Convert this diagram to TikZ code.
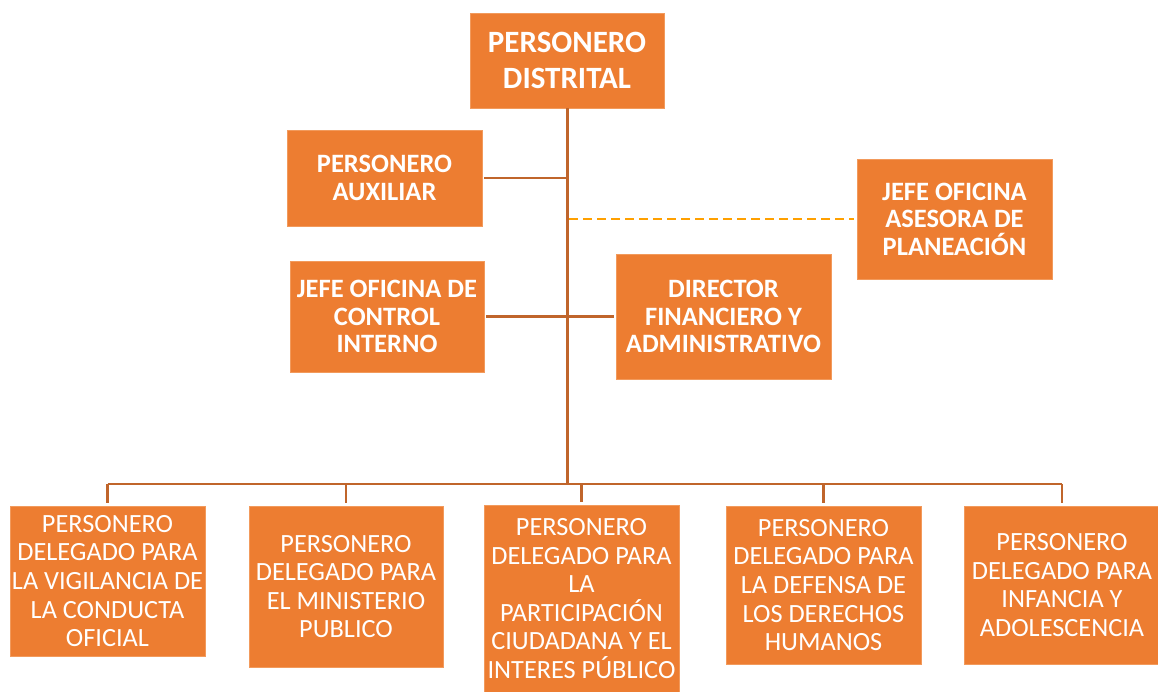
\documentclass[tikz,border=0pt]{standalone}
\usepackage{fontspec}
\setmainfont{Carlito}
\definecolor{boxfill}{HTML}{ED7D31}
\definecolor{boxedge}{HTML}{F29A5C}
\definecolor{linec}{HTML}{C0652B}
\definecolor{dashc}{HTML}{FFA000}
\begin{document}
\begin{tikzpicture}[x=1pt,y=-1pt,
  orgbox/.style={fill=boxfill,draw=boxedge,line width=0.6pt,text=white,align=center,inner sep=0pt},
  boldbox/.style={orgbox,font=\fontsize{26.5}{27.5}\selectfont\bfseries},
  topbox/.style={orgbox,font=\fontsize{31}{36}\selectfont\bfseries},
  regbox/.style={orgbox,font=\fontsize{26.3}{28.6}\selectfont},
  trunkline/.style={draw=linec,line width=3pt},
  conn/.style={draw=linec,line width=2.3pt},
  dashconn/.style={draw=dashc,line width=2.5pt,dash pattern=on 9pt off 5pt}]
\useasboundingbox (0,0) rectangle (1158,692);

\node[topbox,minimum width=194pt,minimum height=95pt] (pd) at (567,60.5) {PERSONERO\\DISTRITAL};
\node[boldbox,minimum width=195pt,minimum height=96pt] (aux) at (384.5,178) {PERSONERO\\AUXILIAR};
\node[boldbox,minimum width=195pt,minimum height=120pt] (ase) at (954.5,219) {JEFE OFICINA\\ASESORA DE\\PLANEACIÓN};
\node[boldbox,minimum width=194pt,minimum height=111pt] (ci) at (387,316.5) {JEFE OFICINA DE\\CONTROL\\INTERNO};
\node[boldbox,minimum width=215pt,minimum height=125pt] (dir) at (723.5,316.5) {DIRECTOR\\FINANCIERO Y\\ADMINISTRATIVO};

\node[regbox,minimum width=195pt,minimum height=150pt] (b1) at (107.5,581) {PERSONERO\\DELEGADO PARA\\LA VIGILANCIA DE\\LA CONDUCTA\\OFICIAL};
\node[regbox,minimum width=194pt,minimum height=161pt] (b2) at (346,586.5) {PERSONERO\\DELEGADO PARA\\EL MINISTERIO\\PUBLICO};
\node[regbox,minimum width=195pt,minimum height=187pt] (b3) at (581.5,598.5) {PERSONERO\\DELEGADO PARA\\LA\\PARTICIPACIÓN\\CIUDADANA Y EL\\INTERES PÚBLICO};
\node[regbox,minimum width=195pt,minimum height=158pt] (b4) at (823.5,585) {PERSONERO\\DELEGADO PARA\\LA DEFENSA DE\\LOS DERECHOS\\HUMANOS};
\node[regbox,minimum width=195pt,minimum height=158pt] (b5) at (1062,585) {PERSONERO\\DELEGADO PARA\\INFANCIA Y\\ADOLESCENCIA};

\coordinate (bar) at (567,484);

% trunk
\draw[trunkline] (pd.south) -- (bar);
% side connectors
\draw[conn] ([xshift=2pt]aux.east) -- (aux.east -| bar);
\draw[conn] ([xshift=2pt]ci.east) -- ([xshift=-2pt]dir.west);
\draw[dashconn] ([xshift=2pt]ase.west -| bar) -- ([xshift=-3pt]ase.west);
% bottom bar and drops
\draw[conn] (b1.north |- bar) -- (b5.north |- bar);
\foreach \b in {b1,b2,b3,b4,b5}{
  \draw[conn] (\b.north |- bar) -- ([yshift=3pt]\b.north);
}
\end{tikzpicture}
\end{document}
